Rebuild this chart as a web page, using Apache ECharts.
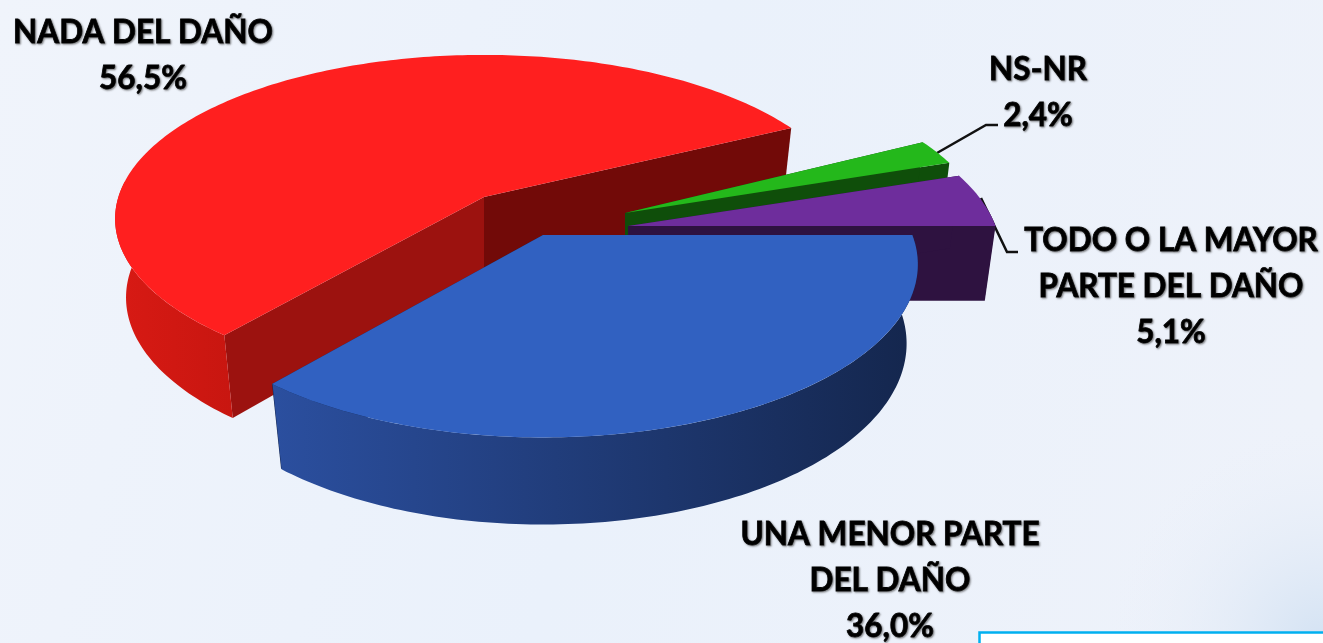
<!DOCTYPE html>
<html style="height: 100%">
<head>
    <meta charset="utf-8">
    <title>Parte del daño</title>
</head>
<body style="height: 100%; margin: 0">
    <div id="container" style="width: 1323px; height: 643px"></div>
    <script type="text/javascript" src="https://cdn.jsdelivr.net/npm/echarts@6/dist/echarts.min.js"></script>
    <script type="text/javascript">
        // slices in the order they sit round the pie, going clockwise from the front left
        var categories = ['NADA DEL DAÑO', 'NS-NR', 'TODO O LA MAYOR\nPARTE DEL DAÑO', 'UNA MENOR PARTE\nDEL DAÑO'];
        var values = [56.5, 2.4, 5.1, 36.0];

        var startAngle = 129.6;   // where the first slice begins, degrees, 90 = towards the viewer
        var radiusX = 375, perspDepth = 0.03;

        // exploded slice tips on screen, and how each slice sits in the perspective
        var tips = [[484, 197], [625, 213], [628, 226], [543, 235]];
        var scalesX = [0.975, 0.96, 0.98, 0.985];
        var radiiY = [161, 168, 168, 168];
        var persps = [0.133, 0.17, 0.17, 0.17];
        var depths = [81, 78, 77, 81];
        var tops = ['#ff1f1f', '#24b81b', '#6e2d9c', '#3161c1'];
        var faceStart = ['#9c120f', '#0f4e0a', '#2e1240', '#14264f'];
        var faceEnd = ['#720a08', '#0f4e0a', '#2e1240', '#14264f'];
        var rimLeft = ['#d81a14', '#0f4e0a', '#2e1240', '#2b4f9f'];
        var rimRight = ['#c81610', '#0f4e0a', '#2e1240', '#14264d'];

        function project(idx, angle, r, z) {
            var rad = angle * Math.PI / 180;
            var wx = Math.cos(rad) * r, wy = Math.sin(rad) * r;
            var f = 1 / (1 - persps[idx] * wy + perspDepth * z);
            return [
                tips[idx][0] + wx * radiusX * scalesX[idx] * f,
                tips[idx][1] + (wy * radiiY[idx] + z * depths[idx]) * f
            ];
        }

        function arc(idx, from, to, z) {
            var pts = [], n = Math.max(2, Math.ceil(Math.abs(to - from)));
            for (var i = 0; i <= n; i++) {
                pts.push(project(idx, from + (to - from) * i / n, 1, z));
            }
            return pts;
        }

        function sliceRange(idx) {
            var a = startAngle;
            for (var i = 0; i < idx; i++) a += values[i] * 3.6;
            return [a, a + values[idx] * 3.6];
        }

        // the part of the outer wall that turns towards the viewer
        function visibleRange(range) {
            var from = null, to = null;
            for (var a = range[0]; a <= range[1]; a += 0.5) {
                if (Math.sin(a * Math.PI / 180) >= -0.1) {
                    if (from === null) from = a;
                    to = a;
                }
            }
            return from === null ? null : [from, to];
        }

        function renderSlice(params, api) {
            var idx = params.dataIndex;
            var tip = tips[idx], range = sliceRange(idx);
            var topRim = arc(idx, range[0], range[1], 0);
            var lowRim = arc(idx, range[0], range[1], 1);
            var tipLow = project(idx, 0, 0, 1);
            var first = topRim[0], last = topRim[topRim.length - 1];
            var children = [
                { type: 'polygon', shape: { points: [tip, last, lowRim[lowRim.length - 1], tipLow] }, style: { fill: faceEnd[idx] } },
                { type: 'polygon', shape: { points: [tip, first, lowRim[0], tipLow] }, style: { fill: faceStart[idx] } }
            ];
            var vis = visibleRange(range);
            if (vis) {
                children.push({
                    type: 'polygon',
                    shape: { points: arc(idx, vis[0], vis[1], 0).concat(arc(idx, vis[0], vis[1], 1).reverse()) },
                    style: { fill: new echarts.graphic.LinearGradient(0, 0, 1, 0, [
                        { offset: 0, color: rimLeft[idx] }, { offset: 1, color: rimRight[idx] }
                    ]) }
                });
            }
            children.push({ type: 'polygon', shape: { points: [tip].concat(topRim) }, style: { fill: tops[idx] } });
            return { type: 'group', children: children };
        }

        function pct(v) {
            return v.toFixed(1).replace('.', ',') + '%';
        }

        function labelText(i, x, y) {
            return {
                type: 'text', x: x, y: y, silent: true,
                style: {
                    text: categories[i] + '\n' + pct(values[i]),
                    font: 'bold 31.5px Lato', lineHeight: 46, fill: '#000', align: 'center', verticalAlign: 'top',
                    stroke: '#000', lineWidth: 0.8,
                    textShadowColor: 'rgba(60,60,60,0.6)', textShadowBlur: 2, textShadowOffsetX: 1, textShadowOffsetY: 1
                }
            };
        }

        var myChart = echarts.init(document.getElementById('container'));
        var option = {
            animation: false,
            backgroundColor: '#ecf2fb',
            graphic: [
                { type: 'rect', z: -1, silent: true, shape: { x: 0, y: 0, width: 1323, height: 643 },
                    style: { fill: new echarts.graphic.LinearGradient(0, 0, 1, 0.6, [
                        { offset: 0, color: '#f0f4fb' }, { offset: 0.5, color: '#eaf1fb' }, { offset: 1, color: '#eef2fa' }
                    ]) } },
                { type: 'rect', z: -1, silent: true, shape: { x: 1000, y: 360, width: 323, height: 283 },
                    style: { fill: new echarts.graphic.RadialGradient(1, 1, 0.8, [
                        { offset: 0, color: 'rgba(211,226,243,1)' }, { offset: 1, color: 'rgba(238,242,250,0)' }
                    ]) } },
                { type: 'rect', silent: true, shape: { x: 979.5, y: 632.5, width: 360, height: 40 },
                    style: { fill: '#fff', stroke: '#00b0f0', lineWidth: 2.5 } },
                { type: 'polyline', silent: true, shape: { points: [[937, 153], [986, 125], [998, 125]] },
                    style: { stroke: '#111', lineWidth: 2.5, fill: null } },
                { type: 'polyline', silent: true, shape: { points: [[981, 198], [1007, 252], [1018, 252]] },
                    style: { stroke: '#111', lineWidth: 2.5, fill: null } },
                labelText(0, 143, 10),
                labelText(1, 1038, 47),
                labelText(2, 1171, 218),
                labelText(3, 890, 512)
            ],
            series: [{
                type: 'custom',
                coordinateSystem: 'none',
                silent: true,
                renderItem: renderSlice,
                data: values
            }]
        };
        myChart.setOption(option, true);
    </script>
</body>
</html>
